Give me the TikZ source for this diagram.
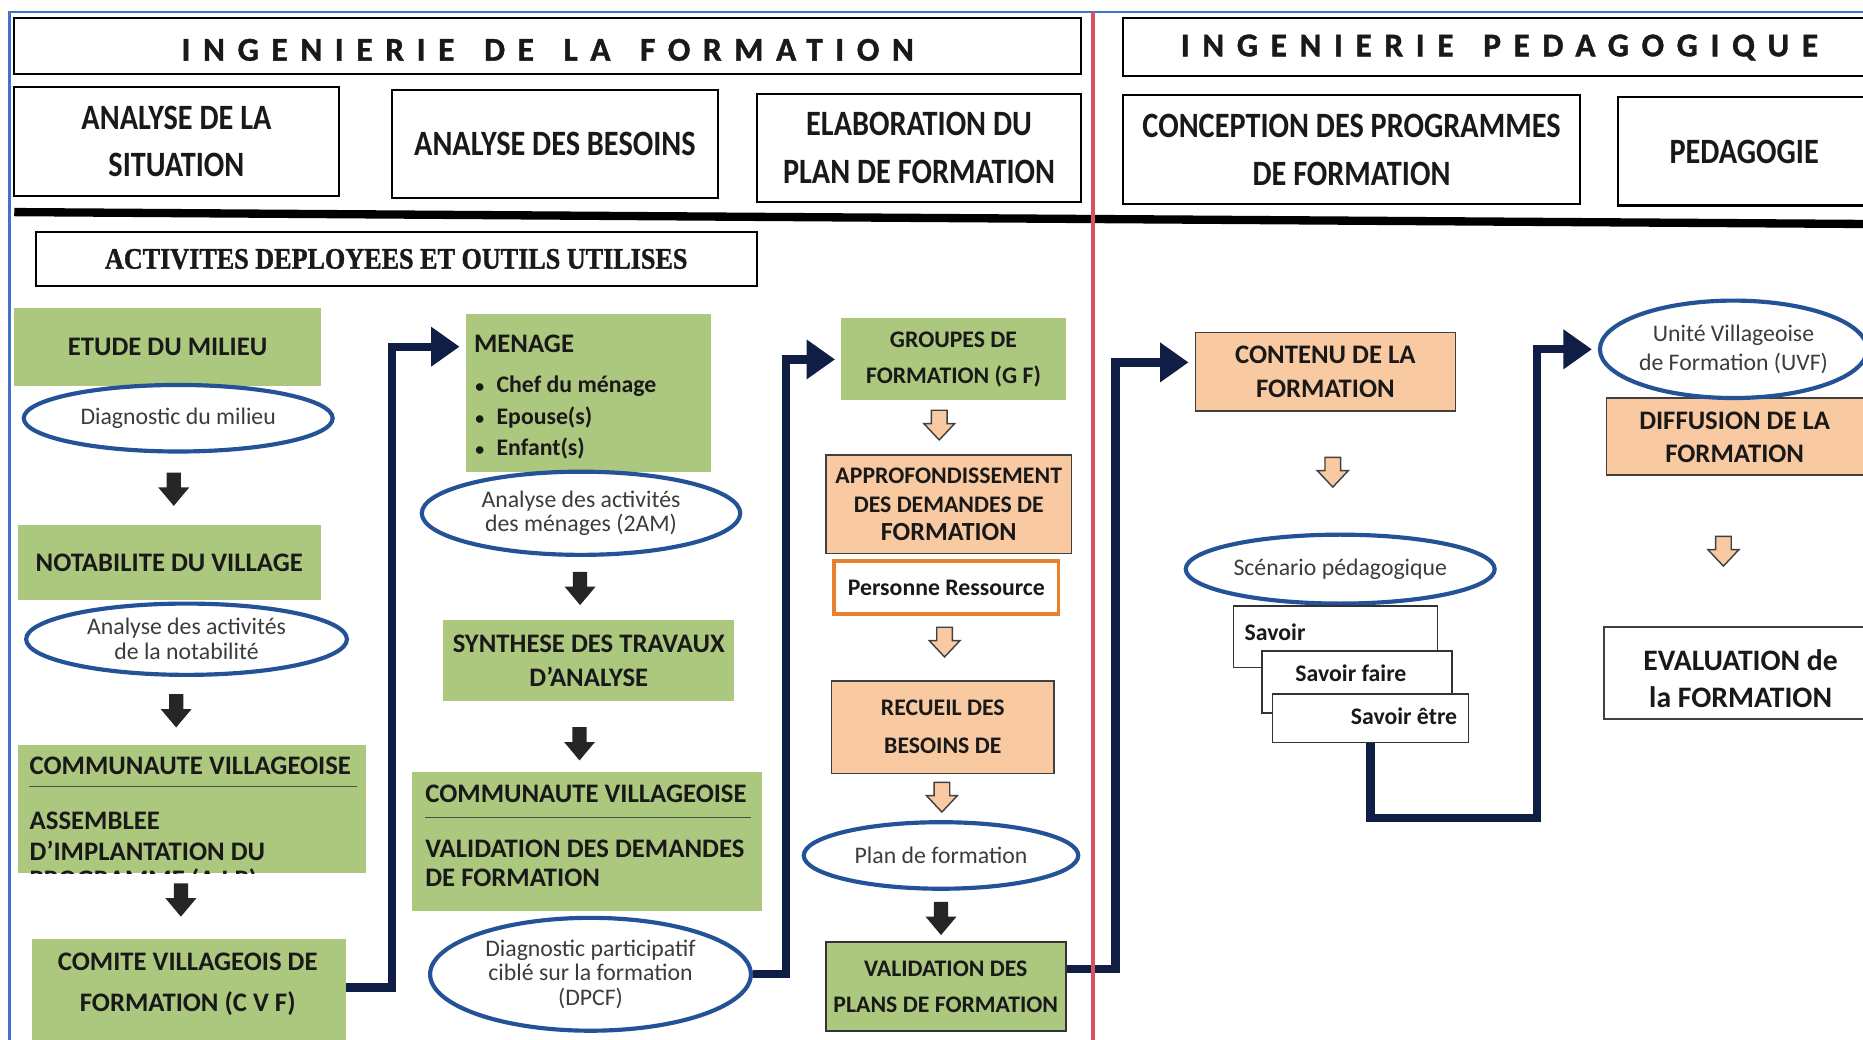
\documentclass[tikz,border=0pt]{standalone}
\usepackage{fontspec}
\setmainfont{Carlito}
\newfontfamily\hdrfont[FakeStretch=0.85]{Carlito}
\newfontfamily\spacedfont[LetterSpace=38,FakeBold=1.2]{Carlito}
\newfontfamily\serifcond[FakeStretch=0.88,FakeBold=1.2]{Liberation Serif}
\usetikzlibrary{shapes.geometric,arrows.meta,calc}
\definecolor{gfill}{RGB}{172,199,126}
\definecolor{ofill}{RGB}{249,201,162}
\definecolor{navy}{RGB}{16,30,70}
\definecolor{eblue}{RGB}{35,82,150}
\definecolor{redline}{RGB}{212,84,94}
\definecolor{frameblue}{RGB}{68,114,196}
\definecolor{txt}{RGB}{25,25,25}
\definecolor{etxt}{RGB}{60,60,60}
\definecolor{oborder}{RGB}{233,128,46}
\newcommand\wsp{\hspace{8pt}}
\tikzset{
  gbox/.style={fill=gfill, draw=none, inner sep=0pt, text=txt, align=center,
    font=\bfseries\fontsize{22.5}{30}\selectfont},
  obox/.style={fill=ofill, draw=black!75, line width=1.3pt, inner sep=0pt, text=txt, align=center,
    font=\bfseries\fontsize{20}{24}\selectfont},
  hbox/.style={draw=black, line width=1.8pt, fill=white, inner sep=0pt, text=txt, align=center,
    font=\hdrfont\bfseries\fontsize{30}{40}\selectfont},
  sphdr/.style={inner sep=0pt, text=txt, font=\spacedfont\bfseries\fontsize{28}{28}\selectfont},
  wbox/.style={draw=black!80, line width=1.2pt, fill=white, inner sep=0pt},
  ell/.style={ellipse, draw=eblue, line width=3.5pt, fill=white, inner sep=0pt, text=etxt, align=center,
    font=\fontsize{20}{21}\selectfont},
  tline/.style={inner sep=0pt, text=txt, font=\bfseries\fontsize{22.5}{26}\selectfont},
  blkarr/.style={fill=black!85, draw=none},
  holarr/.style={fill=ofill, draw=black!75, line width=1.2pt, line join=miter},
  conn/.style={draw=navy, line width=7pt, line join=miter, -{Triangle[length=24pt,width=32pt]}, shorten >=5pt}
}
\newcommand\blockarrow[2]{\path[#2, shift={(#1)}] (-6,-14) -- (6,-14) -- (6,-1.5) -- (13,-1.5) -- (0,14) -- (-13,-1.5) -- (-6,-1.5) -- cycle;}
\newcommand\hollowarrow[2]{\path[#2, shift={(#1)}] (-6.6,-12.5) -- (6.6,-12.5) -- (6.6,-1.3) -- (13,-1.3) -- (0,12.5) -- (-13,-1.3) -- (-6.6,-1.3) -- cycle;}
\begin{document}
\begin{tikzpicture}[x=1pt,y=-1pt]
\useasboundingbox (0,0) rectangle (1568,875);
\clip (0,0) rectangle (1568,875);
\fill[white] (0,0) rectangle (1568,875);
\draw[frameblue, line width=1.8pt] (8,875) -- (8,10) -- (1568,10);

% headers
\node[hbox, minimum width=898pt, minimum height=47pt] (hdrL) at (461,38.5) {};
\node[sphdr] (hdrLt) at (461,42) {INGENIERIE\wsp{} DE\wsp{} LA\wsp{} FORMATION};
\node[hbox, minimum width=635pt, minimum height=49pt] (hdrR) at (1262.5,39.5) {};
\node[sphdr] (hdrRt) at (1262,40) {INGENIERIE\wsp{} PEDAGOGIQUE};
\node[hbox, minimum width=273pt, minimum height=92pt] (sit) at (148.5,119) {ANALYSE DE LA\\SITUATION};
\node[hbox, minimum width=274pt, minimum height=91pt] (bes) at (467,121.5) {ANALYSE DES BESOINS};
\node[hbox, minimum width=273pt, minimum height=91pt] (ela) at (773.5,124.5) {ELABORATION DU\\PLAN DE FORMATION};
\node[hbox, minimum width=385pt, minimum height=92pt] (con) at (1137.5,126) {CONCEPTION DES PROGRAMMES\\DE FORMATION};
\node[hbox, minimum width=218pt, minimum height=91pt] (ped) at (1471,127.5) {};
\node[inner sep=0pt, text=txt, font=\hdrfont\bfseries\fontsize{30}{40}\selectfont] (pedt) at (1468,127.5) {PEDAGOGIE};
\draw[line width=7pt] (12,178.5) -- (1568,188.5);
\node[hbox, line width=1.5pt, minimum width=607pt, minimum height=46pt, font=\serifcond\bfseries\fontsize{25}{25}\selectfont] (act) at (333.5,218) {ACTIVITES DEPLOYEES ET OUTILS UTILISES};

% left column
\node[gbox, minimum width=258pt, minimum height=66pt] (etude) at (141,292) {ETUDE DU MILIEU};
\node[ell, minimum width=260pt, minimum height=56pt] (diag) at (150,352) {Diagnostic du milieu};
\node[gbox, minimum width=255pt, minimum height=63pt] (notab) at (142.5,473.5) {NOTABILITE DU VILLAGE};
\node[ell, minimum width=270pt, minimum height=60pt] (anot) at (157,538) {Analyse des activités\\de la notabilité};
\node[gbox, minimum width=293pt, minimum height=108pt] (comm1) at (161.5,681) {};
\node[tline, anchor=west] (comm1a) at ($(comm1.north west)+(10,18)$) {COMMUNAUTE VILLAGEOISE};
\draw[black!70, line width=1pt] ($(comm1.north west)+(10,35)$) -- ($(comm1.north east)+(-8,35)$);
\begin{scope}
\clip (comm1.north west) rectangle (comm1.south east);
\node[tline, anchor=west] (comm1b) at ($(comm1.north west)+(10,64)$) {ASSEMBLEE};
\node[tline, anchor=west] (comm1c) at ($(comm1.north west)+(10,89)$) {D’IMPLANTATION DU};
\node[tline, anchor=west] (comm1d) at ($(comm1.north west)+(10,114)$) {PROGRAMME (A I P)};
\end{scope}
\node[gbox, minimum width=264pt, minimum height=92pt] (cvf) at (159,836) {};
\node[gbox, fill=none, font=\bfseries\fontsize{22.5}{35}\selectfont] (cvft) at (158,828.5) {COMITE VILLAGEOIS DE\\FORMATION (C V F)};

% middle column
\node[gbox, minimum width=206pt, minimum height=133pt] (menage) at (495,330.5) {};
\node[tline, anchor=west] (men0) at ($(menage.north west)+(7,26)$) {MENAGE};
\node[tline, anchor=west, font=\bfseries\fontsize{20}{24}\selectfont] (men1) at ($(menage.north west)+(8,61)$) {\makebox[18pt][l]{\fontsize{15}{15}\selectfont•}Chef du ménage};
\node[tline, anchor=west, font=\bfseries\fontsize{20}{24}\selectfont] (men2) at ($(menage.north west)+(8,88)$) {\makebox[18pt][l]{\fontsize{15}{15}\selectfont•}Epouse(s)};
\node[tline, anchor=west, font=\bfseries\fontsize{20}{24}\selectfont] (men3) at ($(menage.north west)+(8,114)$) {\makebox[18pt][l]{\fontsize{15}{15}\selectfont•}Enfant(s)};
\node[ell, minimum width=268pt, minimum height=70pt] (e2am) at (489,432) {Analyse des activités\\des ménages (2AM)};
\node[gbox, minimum width=245pt, minimum height=68pt, font=\bfseries\fontsize{22.5}{29}\selectfont] (synth) at (495.5,556) {SYNTHESE DES TRAVAUX\\D’ANALYSE};
\node[gbox, minimum width=294pt, minimum height=117pt] (comm2) at (494,708.5) {};
\node[tline, anchor=west] (comm2a) at ($(comm2.north west)+(11,18)$) {COMMUNAUTE VILLAGEOISE};
\draw[black!70, line width=1pt] ($(comm2.north west)+(11,38)$) -- ($(comm2.north east)+(-9,38)$);
\node[tline, anchor=west] (comm2b) at ($(comm2.north west)+(11,65)$) {VALIDATION DES DEMANDES};
\node[tline, anchor=west] (comm2c) at ($(comm2.north west)+(11,89)$) {DE FORMATION};
\node[ell, minimum width=270pt, minimum height=95pt, font=\fontsize{20}{20.5}\selectfont] (dpcf) at (497,820) {Diagnostic participatif\\ciblé sur la formation\\(DPCF)};

% third column
\node[gbox, minimum width=189pt, minimum height=69pt, font=\bfseries\fontsize{20}{30}\selectfont] (groupes) at (802.5,302.5) {GROUPES DE\\FORMATION (G F)};
\node[obox, minimum width=207pt, minimum height=83pt] (approf) at (798.5,424.5) {APPROFONDISSEMENT\\DES DEMANDES DE\\{\fontsize{22}{28}\selectfont FORMATION}};
\node[fill=white, draw=oborder, line width=3pt, minimum width=189pt, minimum height=45pt, inner sep=0pt, text=txt, font=\bfseries\fontsize{20}{24}\selectfont] (pers) at (796.5,494.5) {Personne Ressource};
\node[obox, minimum width=187pt, minimum height=78pt, font=\bfseries\fontsize{20}{32}\selectfont] (recueil) at (793.5,612) {RECUEIL DES\\BESOINS DE};
\node[ell, minimum width=231pt, minimum height=56pt] (plan) at (792,720) {Plan de formation};
\node[gbox, draw=black!80, line width=1.5pt, minimum width=202pt, minimum height=75pt, font=\bfseries\fontsize{20}{31}\selectfont] (valplans) at (796,830.5) {VALIDATION DES\\PLANS DE FORMATION};

% right section
\node[obox, minimum width=219pt, minimum height=66pt, font=\bfseries\fontsize{22.5}{28}\selectfont] (contenu) at (1115.5,313) {CONTENU DE LA\\FORMATION};
\node[ell, minimum width=260pt, minimum height=58pt] (scen) at (1128,479) {Scénario pédagogique};
\node[wbox, minimum width=172pt, minimum height=52pt] (s1) at (1124,536) {};
\node[tline, anchor=west, font=\bfseries\fontsize{20}{24}\selectfont] (s1t) at ($(s1.west)+(10,-4)$) {Savoir};
\node[wbox, minimum width=160pt, minimum height=52pt] (s2) at (1142,574) {};
\node[tline, font=\bfseries\fontsize{20}{24}\selectfont] (s2t) at ($(s2.center)+(-5,-7)$) {Savoir faire};
\node[wbox, minimum width=165pt, minimum height=41pt] (s3) at (1153.5,604.5) {};
\node[tline, anchor=east, font=\bfseries\fontsize{20}{24}\selectfont] (s3t) at ($(s3.east)+(-10,-2)$) {Savoir être};
\node[obox, minimum width=228pt, minimum height=65pt] (diff) at (1466,367.5) {};
\node[tline, align=center, font=\bfseries\fontsize{22.5}{28}\selectfont] (difft) at (1460,368) {DIFFUSION DE LA\\FORMATION};
\node[ell, minimum width=224pt, minimum height=82pt, font=\fontsize{20}{24}\selectfont] (uvf) at (1459,294) {Unité Villageoise\\de Formation (UVF)};
\node[wbox, draw=black!75, line width=1.5pt, minimum width=230pt, minimum height=77pt] (eval) at (1465,566.5) {};
\node[tline, align=center, font=\bfseries\fontsize{25}{31}\selectfont] (evalt) at (1465,571) {EVALUATION de\\la FORMATION};

% block arrows (between named nodes)
\coordinate (b1) at ($(diag.south)!0.5!(notab.north)$);
\coordinate (b2) at ($($(anot.south)!0.5!(comm1.north)$)+(-11,0)$);
\coordinate (b3) at ($($(comm1.south)!0.5!(cvf.north)$)+(-8,-5)$);
\coordinate (b4) at ($($(e2am.south)!0.5!(synth.north)$)+(-4,0)$);
\coordinate (b5) at ($($(synth.south)!0.5!(comm2.north)$)+(-7,6)$);
\coordinate (b6) at ($($(plan.south)!0.5!(valplans.north)$)+(-2,2)$);
\coordinate (h1) at ($($(groupes.south)!0.5!(approf.north)$)+(-10,-2)$);
\coordinate (h2) at ($($(pers.south)!0.5!(recueil.north)$)+(0,-5)$);
\coordinate (h3) at ($(recueil.south)!0.5!(plan.north)$);
\coordinate (h4) at ($(contenu.south)!0.5!(scen.north)$);
\coordinate (h5) at ($($(diff.south)!0.5!(eval.north)$)+(-15,0)$);
\foreach \c in {b1,b2,b3,b4,b5,b6} {\blockarrow{\c}{blkarr}}
\foreach \c in {h1,h2,h3,h4,h5} {\hollowarrow{\c}{holarr}}

% connectors
\draw[conn] ([yshift=5pt]cvf.east) -- ++(39,0) |- ($(menage.north west)+(0,28)$);
\draw[conn] (dpcf.east) -- ++(28,0) |- (groupes.west);
\draw[conn] ([yshift=15pt]valplans.east) -- ++(41,0) |- ([yshift=8pt]contenu.west);
\draw[conn] (s3.south) -- ++(0,63) -- ++(140,0) |- (uvf.west);

\draw[redline, line width=3.5pt] (920,10) -- (920,875);
\end{tikzpicture}
\end{document}
